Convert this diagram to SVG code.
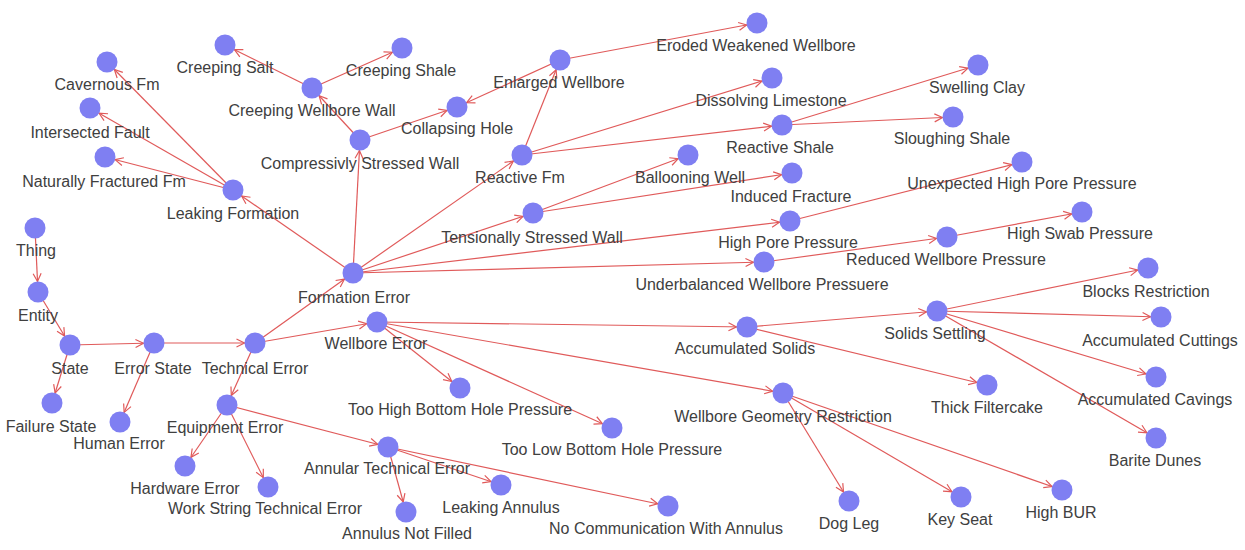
<svg xmlns="http://www.w3.org/2000/svg" width="1245" height="550" viewBox="0 0 1245 550">
<style>
.e line{stroke:#e05a5a;stroke-width:1.2;marker-end:url(#a)}
.n circle{fill:#7f7ff2}
.n text{font-family:"Liberation Sans",Arial,sans-serif;font-size:16px;fill:#404040;text-anchor:middle}
</style>
<defs>
<marker id="a" markerUnits="userSpaceOnUse" markerWidth="10" markerHeight="10" refX="18.5" refY="4" orient="auto" overflow="visible">
<path d="M0,0 L8,4 L0,8" fill="none" stroke="#e05a5a" stroke-width="1.2"/>
</marker>
</defs>
<rect width="1245" height="550" fill="#ffffff"/>
<g id="connectors" class="e">
<line x1="35" y1="228" x2="38" y2="292"/>
<line x1="38" y1="292" x2="70" y2="345"/>
<line x1="70" y1="345" x2="154" y2="343"/>
<line x1="70" y1="345" x2="52" y2="403"/>
<line x1="154" y1="343" x2="255" y2="343"/>
<line x1="154" y1="343" x2="120" y2="422"/>
<line x1="255" y1="343" x2="353" y2="273"/>
<line x1="255" y1="343" x2="377" y2="322"/>
<line x1="255" y1="343" x2="227" y2="405"/>
<line x1="353" y1="273" x2="233" y2="190"/>
<line x1="353" y1="273" x2="360" y2="140"/>
<line x1="353" y1="273" x2="522" y2="155"/>
<line x1="353" y1="273" x2="533" y2="213"/>
<line x1="353" y1="273" x2="790" y2="221"/>
<line x1="353" y1="273" x2="764" y2="262"/>
<line x1="233" y1="190" x2="107" y2="62"/>
<line x1="233" y1="190" x2="90" y2="108"/>
<line x1="233" y1="190" x2="105" y2="157"/>
<line x1="360" y1="140" x2="312" y2="88"/>
<line x1="360" y1="140" x2="457" y2="107"/>
<line x1="312" y1="88" x2="225" y2="45"/>
<line x1="312" y1="88" x2="402" y2="48"/>
<line x1="522" y1="155" x2="560" y2="60"/>
<line x1="522" y1="155" x2="772" y2="78"/>
<line x1="522" y1="155" x2="782" y2="125"/>
<line x1="560" y1="60" x2="457" y2="107"/>
<line x1="560" y1="60" x2="757" y2="23"/>
<line x1="782" y1="125" x2="978" y2="65"/>
<line x1="782" y1="125" x2="953" y2="117"/>
<line x1="533" y1="213" x2="688" y2="155"/>
<line x1="533" y1="213" x2="792" y2="173"/>
<line x1="790" y1="221" x2="1022" y2="162"/>
<line x1="764" y1="262" x2="947" y2="237"/>
<line x1="947" y1="237" x2="1082" y2="212"/>
<line x1="377" y1="322" x2="747" y2="327"/>
<line x1="377" y1="322" x2="783" y2="393"/>
<line x1="377" y1="322" x2="460" y2="388"/>
<line x1="377" y1="322" x2="612" y2="428"/>
<line x1="747" y1="327" x2="937" y2="311"/>
<line x1="747" y1="327" x2="987" y2="385"/>
<line x1="937" y1="311" x2="1148" y2="268"/>
<line x1="937" y1="311" x2="1161" y2="317"/>
<line x1="937" y1="311" x2="1156" y2="377"/>
<line x1="937" y1="311" x2="1156" y2="438"/>
<line x1="783" y1="393" x2="849" y2="501"/>
<line x1="783" y1="393" x2="961" y2="497"/>
<line x1="783" y1="393" x2="1062" y2="490"/>
<line x1="227" y1="405" x2="185" y2="466"/>
<line x1="227" y1="405" x2="268" y2="487"/>
<line x1="227" y1="405" x2="388" y2="447"/>
<line x1="388" y1="447" x2="406" y2="512"/>
<line x1="388" y1="447" x2="501" y2="485"/>
<line x1="388" y1="447" x2="668" y2="506"/>
</g>
<g id="thing" class="n"><circle cx="35" cy="228" r="10.5"/><text x="36" y="256">Thing</text></g>
<g id="entity" class="n"><circle cx="38" cy="292" r="10.5"/><text x="38" y="321">Entity</text></g>
<g id="state" class="n"><circle cx="70" cy="345" r="10.5"/><text x="70" y="374">State</text></g>
<g id="failure-state" class="n"><circle cx="52" cy="403" r="10.5"/><text x="51" y="432">Failure State</text></g>
<g id="error-state" class="n"><circle cx="154" cy="343" r="10.5"/><text x="153" y="374">Error State</text></g>
<g id="human-error" class="n"><circle cx="120" cy="422" r="10.5"/><text x="119" y="449">Human Error</text></g>
<g id="technical-error" class="n"><circle cx="255" cy="343" r="10.5"/><text x="255" y="374">Technical Error</text></g>
<g id="equipment-error" class="n"><circle cx="227" cy="405" r="10.5"/><text x="225" y="433">Equipment Error</text></g>
<g id="hardware-error" class="n"><circle cx="185" cy="466" r="10.5"/><text x="185" y="494">Hardware Error</text></g>
<g id="work-string-technical-error" class="n"><circle cx="268" cy="487" r="10.5"/><text x="265" y="514">Work String Technical Error</text></g>
<g id="formation-error" class="n"><circle cx="353" cy="273" r="10.5"/><text x="354" y="303">Formation Error</text></g>
<g id="leaking-formation" class="n"><circle cx="233" cy="190" r="10.5"/><text x="233" y="219">Leaking Formation</text></g>
<g id="cavernous-fm" class="n"><circle cx="107" cy="62" r="10.5"/><text x="107" y="90">Cavernous Fm</text></g>
<g id="intersected-fault" class="n"><circle cx="90" cy="108" r="10.5"/><text x="90" y="138">Intersected Fault</text></g>
<g id="naturally-fractured-fm" class="n"><circle cx="105" cy="157" r="10.5"/><text x="104" y="187">Naturally Fractured Fm</text></g>
<g id="compressivly-stressed-wall" class="n"><circle cx="360" cy="140" r="10.5"/><text x="360" y="169">Compressivly Stressed Wall</text></g>
<g id="creeping-wellbore-wall" class="n"><circle cx="312" cy="88" r="10.5"/><text x="312" y="116">Creeping Wellbore Wall</text></g>
<g id="creeping-salt" class="n"><circle cx="225" cy="45" r="10.5"/><text x="225" y="73">Creeping Salt</text></g>
<g id="creeping-shale" class="n"><circle cx="402" cy="48" r="10.5"/><text x="401" y="76">Creeping Shale</text></g>
<g id="collapsing-hole" class="n"><circle cx="457" cy="107" r="10.5"/><text x="457" y="134">Collapsing Hole</text></g>
<g id="reactive-fm" class="n"><circle cx="522" cy="155" r="10.5"/><text x="520" y="183">Reactive Fm</text></g>
<g id="enlarged-wellbore" class="n"><circle cx="560" cy="60" r="10.5"/><text x="559" y="88">Enlarged Wellbore</text></g>
<g id="eroded-weakened-wellbore" class="n"><circle cx="757" cy="23" r="10.5"/><text x="756" y="51">Eroded Weakened Wellbore</text></g>
<g id="dissolving-limestone" class="n"><circle cx="772" cy="78" r="10.5"/><text x="771" y="106">Dissolving Limestone</text></g>
<g id="reactive-shale" class="n"><circle cx="782" cy="125" r="10.5"/><text x="780" y="153">Reactive Shale</text></g>
<g id="swelling-clay" class="n"><circle cx="978" cy="65" r="10.5"/><text x="977" y="93">Swelling Clay</text></g>
<g id="sloughing-shale" class="n"><circle cx="953" cy="117" r="10.5"/><text x="952" y="144">Sloughing Shale</text></g>
<g id="tensionally-stressed-wall" class="n"><circle cx="533" cy="213" r="10.5"/><text x="532" y="243">Tensionally Stressed Wall</text></g>
<g id="ballooning-well" class="n"><circle cx="688" cy="155" r="10.5"/><text x="690" y="183">Ballooning Well</text></g>
<g id="induced-fracture" class="n"><circle cx="792" cy="173" r="10.5"/><text x="791" y="202">Induced Fracture</text></g>
<g id="high-pore-pressure" class="n"><circle cx="790" cy="221" r="10.5"/><text x="788" y="248">High Pore Pressure</text></g>
<g id="unexpected-high-pore-pressure" class="n"><circle cx="1022" cy="162" r="10.5"/><text x="1022" y="189">Unexpected High Pore Pressure</text></g>
<g id="underbalanced-wellbore-pressuere" class="n"><circle cx="764" cy="262" r="10.5"/><text x="762" y="290">Underbalanced Wellbore Pressuere</text></g>
<g id="reduced-wellbore-pressure" class="n"><circle cx="947" cy="237" r="10.5"/><text x="946" y="265">Reduced Wellbore Pressure</text></g>
<g id="high-swab-pressure" class="n"><circle cx="1082" cy="212" r="10.5"/><text x="1080" y="239">High Swab Pressure</text></g>
<g id="wellbore-error" class="n"><circle cx="377" cy="322" r="10.5"/><text x="376" y="349">Wellbore Error</text></g>
<g id="accumulated-solids" class="n"><circle cx="747" cy="327" r="10.5"/><text x="745" y="354">Accumulated Solids</text></g>
<g id="solids-settling" class="n"><circle cx="937" cy="311" r="10.5"/><text x="935" y="339">Solids Settling</text></g>
<g id="blocks-restriction" class="n"><circle cx="1148" cy="268" r="10.5"/><text x="1146" y="297">Blocks Restriction</text></g>
<g id="accumulated-cuttings" class="n"><circle cx="1161" cy="317" r="10.5"/><text x="1160" y="346">Accumulated Cuttings</text></g>
<g id="accumulated-cavings" class="n"><circle cx="1156" cy="377" r="10.5"/><text x="1155" y="405">Accumulated Cavings</text></g>
<g id="barite-dunes" class="n"><circle cx="1156" cy="438" r="10.5"/><text x="1155" y="466">Barite Dunes</text></g>
<g id="thick-filtercake" class="n"><circle cx="987" cy="385" r="10.5"/><text x="987" y="413">Thick Filtercake</text></g>
<g id="wellbore-geometry-restriction" class="n"><circle cx="783" cy="393" r="10.5"/><text x="783" y="422">Wellbore Geometry Restriction</text></g>
<g id="dog-leg" class="n"><circle cx="849" cy="501" r="10.5"/><text x="849" y="529">Dog Leg</text></g>
<g id="key-seat" class="n"><circle cx="961" cy="497" r="10.5"/><text x="960" y="525">Key Seat</text></g>
<g id="high-bur" class="n"><circle cx="1062" cy="490" r="10.5"/><text x="1061" y="518">High BUR</text></g>
<g id="too-high-bottom-hole-pressure" class="n"><circle cx="460" cy="388" r="10.5"/><text x="460" y="415">Too High Bottom Hole Pressure</text></g>
<g id="too-low-bottom-hole-pressure" class="n"><circle cx="612" cy="428" r="10.5"/><text x="612" y="455">Too Low Bottom Hole Pressure</text></g>
<g id="annular-technical-error" class="n"><circle cx="388" cy="447" r="10.5"/><text x="387" y="474">Annular Technical Error</text></g>
<g id="leaking-annulus" class="n"><circle cx="501" cy="485" r="10.5"/><text x="501" y="513">Leaking Annulus</text></g>
<g id="annulus-not-filled" class="n"><circle cx="406" cy="512" r="10.5"/><text x="407" y="539">Annulus Not Filled</text></g>
<g id="no-communication-with-annulus" class="n"><circle cx="668" cy="506" r="10.5"/><text x="666" y="534">No Communication With Annulus</text></g>
</svg>
